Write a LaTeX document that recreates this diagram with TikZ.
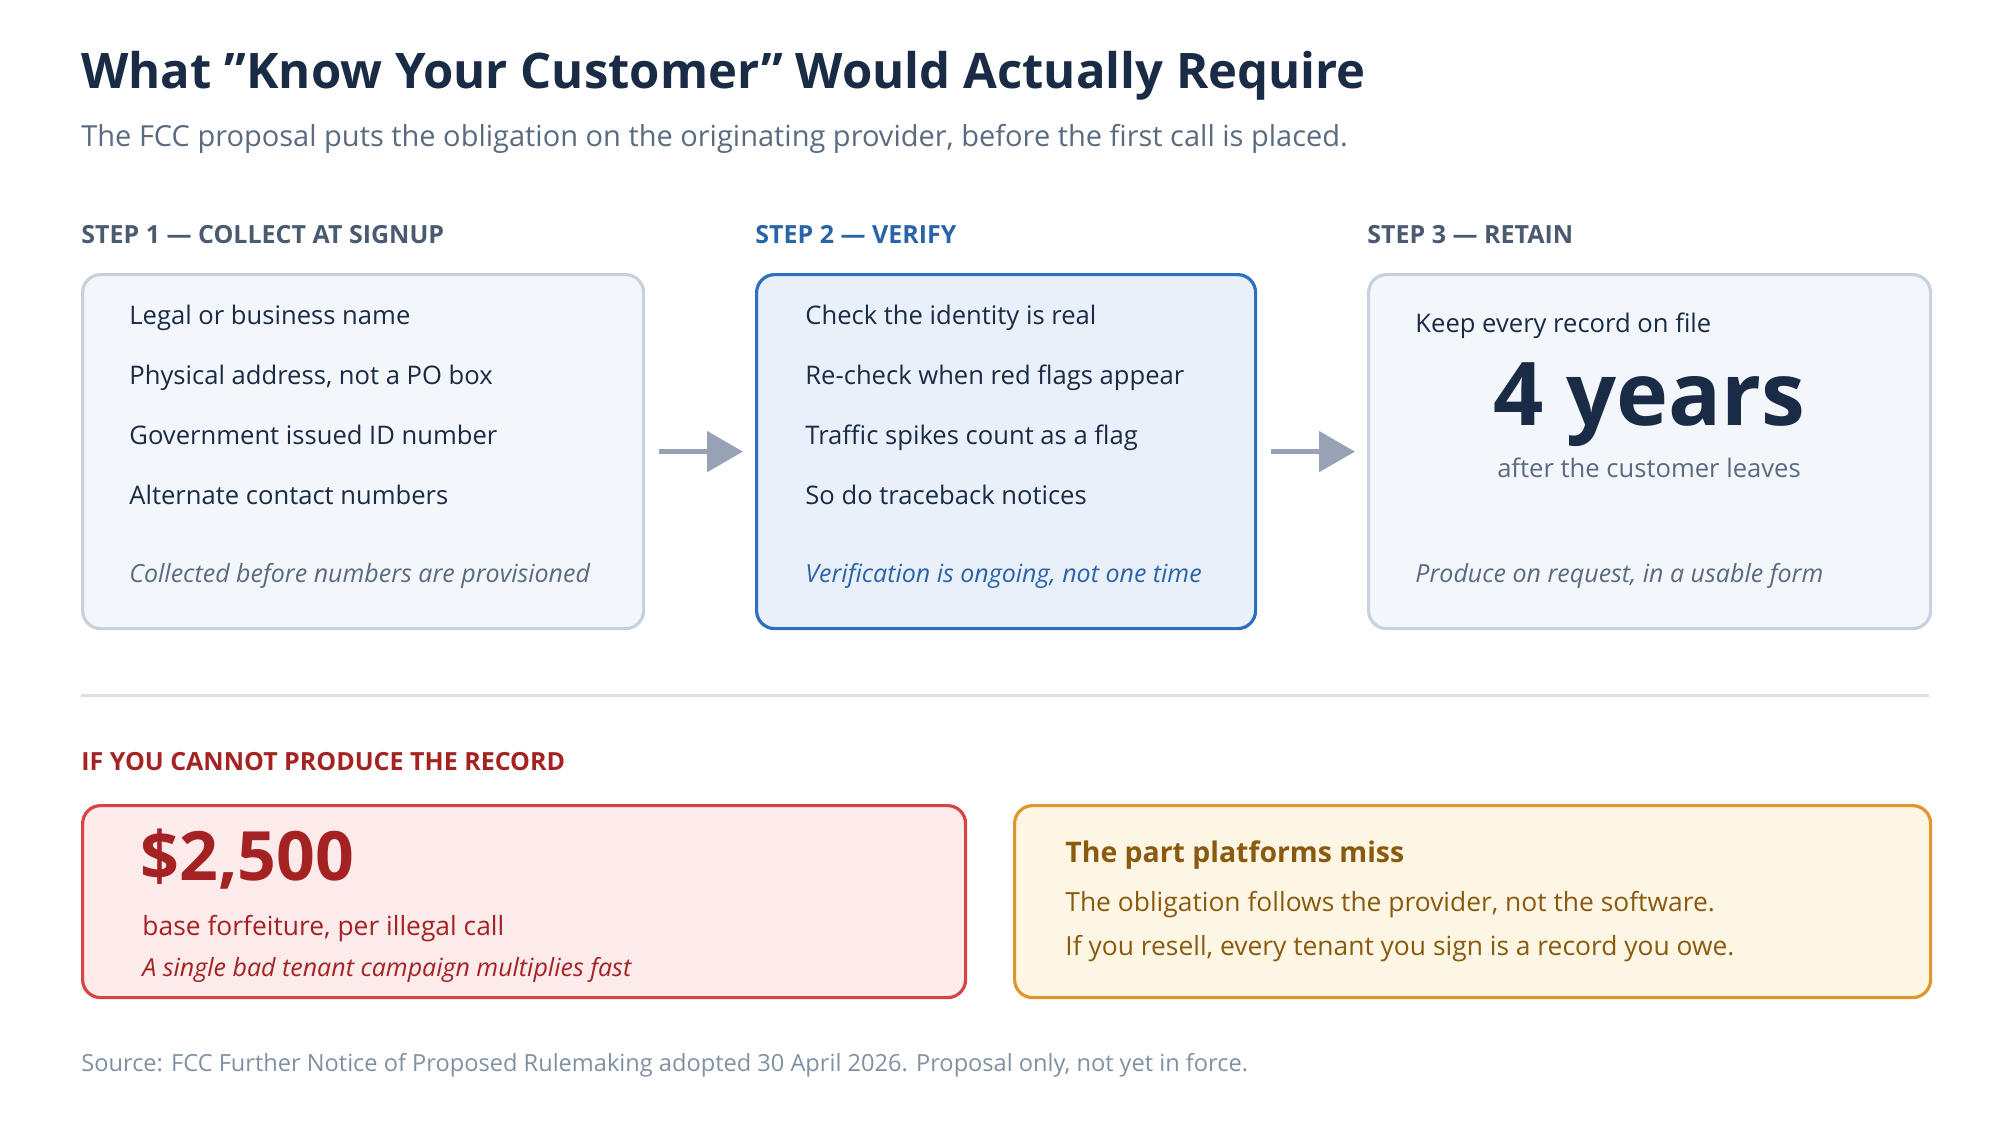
\documentclass[tikz,border=0pt]{standalone}
\usepackage{fontspec}
\setmainfont{Open Sans}
\usetikzlibrary{arrows.meta,positioning}
\definecolor{ink}{HTML}{1A2B45}
\definecolor{subgray}{HTML}{5A6B80}
\definecolor{steplab}{HTML}{4A5A70}
\definecolor{stepblue}{HTML}{2A64A8}
\definecolor{boxfill}{HTML}{F3F6FB}
\definecolor{boxline}{HTML}{C8D2DE}
\definecolor{bluefill}{HTML}{E9F0FA}
\definecolor{blueline}{HTML}{2F6FBF}
\definecolor{redfill}{HTML}{FDEAEA}
\definecolor{redline}{HTML}{D64545}
\definecolor{redtext}{HTML}{A52222}
\definecolor{yelfill}{HTML}{FEF6E4}
\definecolor{yelline}{HTML}{E0962A}
\definecolor{yeltext}{HTML}{8A5A10}
\definecolor{arrowgray}{HTML}{97A3B4}
\definecolor{srcgray}{HTML}{8090A3}
\newcommand{\fs}[1]{\fontsize{#1}{#1}\selectfont}
\tikzset{every node/.style={inner sep=0pt,anchor=base west}}
\tikzset{card/.style={rectangle,rounded corners=9pt,line width=1.6pt,anchor=north west}}
\tikzset{item/.style={text=ink,font=\fs{12.8}}}
\tikzset{note/.style={text=subgray,font=\fs{12.5}\itshape}}
\tikzset{steph/.style={text=steplab,font=\fs{12.5}\bfseries}}
\tikzset{flow/.style={arrowgray,line width=2.6pt,-{Triangle[length=18pt,width=20pt]},shorten <=7pt,shorten >=6pt}}

\begin{document}
\begin{tikzpicture}[x=0.5pt,y=-0.5pt]
      \useasboundingbox (0,0) rectangle (2000,1120);
      \node[text=ink,font=\fs{24.5}\bfseries] (title) at (81,88) {What "Know Your Customer" Would Actually Require};
      \node[text=subgray,font=\fs{14.5}] (sub) at (81,146) {The FCC proposal puts the obligation on the originating provider, before the first call is placed.};

      % the three steps
      \node[steph] (h1) at (81,243) {STEP 1 — COLLECT AT SIGNUP};
      \node[steph,text=stepblue] (h2) at (755,243) {STEP 2 — VERIFY};
      \node[steph] (h3) at (1367,243) {STEP 3 — RETAIN};
      \node[card,draw=boxline,fill=boxfill,minimum width=280.5pt,minimum height=177pt] (s1) at (81,273) {};
      \node[card,draw=blueline,fill=bluefill,minimum width=249.5pt,minimum height=177pt] (s2) at (755,273) {};
      \node[card,draw=boxline,fill=boxfill,minimum width=281pt,minimum height=177pt] (s3) at (1367,273) {};

      \foreach \t [count=\i] in {Legal or business name,{Physical address, not a PO box},Government issued ID number,Alternate contact numbers}
        \node[item] (a\i) at (129,{264+60*\i}) {\t};
      \foreach \t [count=\i] in {Check the identity is real,Re-check when red flags appear,Traffic spikes count as a flag,So do traceback notices}
        \node[item] (b\i) at (805,{264+60*\i}) {\t};
      \node[note] (n1) at (129,582) {Collected before numbers are provisioned};
      \node[note,text=stepblue] (n2) at (805,582) {Verification is ongoing, not one time};

      \node[item] (c1) at (1415,332) {Keep every record on file};
      \node[text=ink,font=\fs{44}\bfseries,anchor=base] (yrs) at (1649,425) {4 years};
      \node[text=subgray,font=\fs{12.8},anchor=base] (after) at (1649,477) {after the customer leaves};
      \node[note] (n3) at (1415,582) {Produce on request, in a usable form};

      \draw[flow] (s1) -- (s2);
      \draw[flow] (s2) -- (s3);

      \draw[boxline!70,line width=1.5pt] (81,695) -- (1929,695);

      % penalty row
      \node[steph,text=redtext] (h4) at (81,770) {IF YOU CANNOT PRODUCE THE RECORD};
      \node[card,draw=redline,fill=redfill,minimum width=441.5pt,minimum height=96pt] (pen) at (81,804) {};
      \node[card,draw=yelline,fill=yelfill,minimum width=458pt,minimum height=96pt] (miss) at (1013,804) {};
      \node[text=redtext,font=\fs{34}\bfseries] (amt) at (140,880) {\$2,500};
      \node[text=redtext,font=\fs{13.2}] (base) at (142,935) {base forfeiture, per illegal call};
      \node[text=redtext,font=\fs{12.5}\itshape] (mult) at (142,976) {A single bad tenant campaign multiplies fast};
      \node[text=yeltext,font=\fs{14.2}\bfseries] (mh) at (1065,862) {The part platforms miss};
      \node[text=yeltext,font=\fs{13.2}] (m1) at (1065,911) {The obligation follows the provider, not the software.};
      \node[text=yeltext,font=\fs{13.2}] (m2) at (1065,955) {If you resell, every tenant you sign is a record you owe.};

      \node[text=srcgray,font=\fs{11.8}] (src) at (81,1071) {Source: FCC Further Notice of Proposed Rulemaking adopted 30 April 2026. Proposal only, not yet in force.};
    \end{tikzpicture}
\end{document}
